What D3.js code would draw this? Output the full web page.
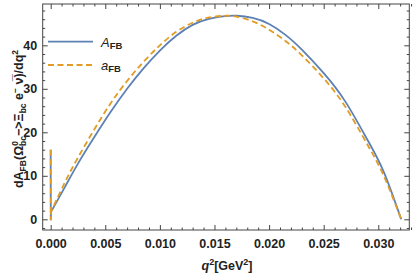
<!DOCTYPE html>
<html lang="en">
<head>
<meta charset="UTF-8">
<title>dA_FB / dq2</title>
<style>
    body { margin: 0; padding: 0; background: #fff; overflow: hidden; }
    svg { display: block; font-family: "Liberation Sans", Arial, sans-serif; }
    .tick text { font-size: 12.5px; font-weight: bold; fill: #222; }
    .tick line { stroke: #444; }
    .domain { display: none; }
    .line { fill: none; stroke-width: 1.8px; }
</style>
</head>
<body>
<svg id="chart" width="415" height="278"></svg>
<script src="https://d3js.org/d3.v7.min.js"></script>
<script>
// q^2 in GeV^2 (first three points = the spike at q^2 ~ 0)
const qA = [0, 0.00001, 0.00003, 0.0013, 0.0025, 0.0040, 0.0055, 0.0070, 0.0085, 0.0100, 0.0115, 0.0130, 0.0145, 0.0160, 0.0170, 0.0185, 0.0200, 0.0215, 0.0230, 0.0250, 0.0270, 0.0290, 0.0305, 0.0321];
const valA = [16, -0.2, 1.7, 7.4, 12.8, 18.9, 24.7, 30.0, 34.7, 38.8, 42.2, 44.7, 46.1, 46.7, 46.8, 46.3, 44.9, 42.4, 39.0, 33.6, 27.0, 18.3, 10.9, 0];

const qa = [0, 0.00001, 0.00003, 0.0013, 0.0025, 0.0040, 0.0055, 0.0070, 0.0085, 0.0100, 0.0115, 0.0130, 0.0145, 0.0160, 0.0170, 0.0185, 0.0200, 0.0215, 0.0230, 0.0250, 0.0270, 0.0290, 0.0305, 0.0321];
const vala = [16, -0.2, 1.7, 8.5, 14.2, 20.7, 26.7, 31.8, 36.2, 40.0, 43.1, 45.2, 46.4, 46.8, 46.6, 45.5, 43.6, 41.0, 37.7, 32.4, 25.8, 17.2, 10.0, 0];

const xTicks = [0, 0.005, 0.010, 0.015, 0.020, 0.025, 0.030];
const yTicks = [0, 10, 20, 30, 40];

const svg = d3.select("#chart");
const pLeft = 42.7, pRight = 409.3, pTop = 4, pBottom = 230;

const x = d3.scaleLinear().domain([-0.00073, 0.03284]).range([pLeft, pRight]);
const y = d3.scaleLinear().domain([-2.46, 49.5]).range([pBottom, pTop]);

const xMinor = d3.range(0, 0.0331, 0.001).filter(v => !xTicks.some(t => Math.abs(t - v) < 1e-9));
const yMinor = d3.range(-2, 49.6, 2).filter(v => v % 10 !== 0);

// frame
svg.append("rect")
    .attr("x", pLeft).attr("y", pTop)
    .attr("width", pRight - pLeft).attr("height", pBottom - pTop)
    .attr("fill", "none").attr("stroke", "#444").attr("stroke-width", 1);

// bottom + top
svg.append("g").attr("transform", `translate(0,${pBottom})`)
    .call(d3.axisBottom(x).tickValues(xTicks).tickSize(-5).tickSizeOuter(0).tickPadding(9).tickFormat(d3.format(".3f")));
svg.append("g").attr("transform", `translate(0,${pBottom})`)
    .call(d3.axisBottom(x).tickValues(xMinor).tickSize(-2.5).tickSizeOuter(0).tickFormat(""));
svg.append("g").attr("transform", `translate(0,${pTop})`)
    .call(d3.axisTop(x).tickValues(xTicks).tickSize(-5).tickSizeOuter(0).tickFormat(""));
svg.append("g").attr("transform", `translate(0,${pTop})`)
    .call(d3.axisTop(x).tickValues(xMinor).tickSize(-2.5).tickSizeOuter(0).tickFormat(""));

// left + right
svg.append("g").attr("transform", `translate(${pLeft},0)`)
    .call(d3.axisLeft(y).tickValues(yTicks).tickSize(-5).tickSizeOuter(0).tickPadding(5.5));
svg.append("g").attr("transform", `translate(${pLeft},0)`)
    .call(d3.axisLeft(y).tickValues(yMinor).tickSize(-2.5).tickSizeOuter(0).tickFormat(""));
svg.append("g").attr("transform", `translate(${pRight},0)`)
    .call(d3.axisRight(y).tickValues(yTicks).tickSize(-5).tickSizeOuter(0).tickFormat(""));
svg.append("g").attr("transform", `translate(${pRight},0)`)
    .call(d3.axisRight(y).tickValues(yMinor).tickSize(-2.5).tickSizeOuter(0).tickFormat(""));

// curves: straight spike near q^2 = 0, smooth spline after it
const spike = d3.line().x(d => x(d[0])).y(d => y(d[1]));
const smooth = d3.line().x(d => x(d[0])).y(d => y(d[1])).curve(d3.curveNatural);

function drawSeries(qs, vals, color, dash) {
    const pts = d3.zip(qs, vals);
    const d = spike(pts.slice(0, 3)) + smooth(pts.slice(2)).replace(/^M/, "L");
    svg.append("path")
        .attr("class", "line")
        .attr("d", d)
        .attr("stroke", color)
        .attr("stroke-dasharray", dash);
}
drawSeries(qA, valA, "#5e81b5", null);
drawSeries(qa, vala, "#e19c24", "6,3.5");

// legend
const legend = [
    {name: "A", color: "#5e81b5", dash: null, y: 41.7},
    {name: "a", color: "#e19c24", dash: "6,3.5", y: 65}
];
legend.forEach(l => {
    svg.append("line")
        .attr("x1", 48).attr("x2", 93)
        .attr("y1", l.y).attr("y2", l.y)
        .attr("stroke", l.color).attr("stroke-width", 1.8)
        .attr("stroke-dasharray", l.dash);
    const t = svg.append("text")
        .attr("x", 101).attr("y", l.y + 5)
        .attr("fill", "#222")
        .style("font-size", "13px");
    t.append("tspan").style("font-style", "italic").text(l.name);
    t.append("tspan").attr("dy", 2).style("font-size", "9.5px").style("font-weight", "bold").text("FB");
});

// x title
const xt = svg.append("text")
    .attr("x", 227).attr("y", 270)
    .attr("text-anchor", "middle")
    .attr("fill", "#222")
    .style("font-size", "12.5px").style("font-weight", "bold");
xt.append("tspan").style("font-style", "italic").text("q");
xt.append("tspan").attr("dy", -5).style("font-size", "9px").text("2");
xt.append("tspan").attr("dy", 5).text("[GeV");
xt.append("tspan").attr("dy", -5).style("font-size", "9px").text("2");
xt.append("tspan").attr("dy", 5).text("]");

// y title
const yt = svg.append("text")
    .attr("transform", "translate(23,119) rotate(-90)")
    .attr("text-anchor", "middle")
    .attr("fill", "#222")
    .style("font-size", "12.5px").style("font-weight", "bold");
yt.append("tspan").text("dA");
yt.append("tspan").attr("dy", 3).style("font-size", "8.5px").text("FB");
yt.append("tspan").attr("dy", -3).text("(\u03A9");
yt.append("tspan").attr("dy", -5.5).style("font-size", "8.5px").text("0");
yt.append("tspan").attr("dx", -4.8).attr("dy", 8.5).style("font-size", "8.5px").text("bc");
yt.append("tspan").attr("dy", -3).text("\u2212>\u039E");
yt.append("tspan").attr("dy", 3).style("font-size", "8.5px").text("bc");
yt.append("tspan").attr("dy", -3).text(" e");
yt.append("tspan").attr("dy", -5).style("font-size", "8.5px").text("\u2212");
yt.append("tspan").attr("dy", 5).text(" \u03BD\u0305)/dq");
yt.append("tspan").attr("dy", -5).style("font-size", "8.5px").text("2");
</script>
</body>
</html>
